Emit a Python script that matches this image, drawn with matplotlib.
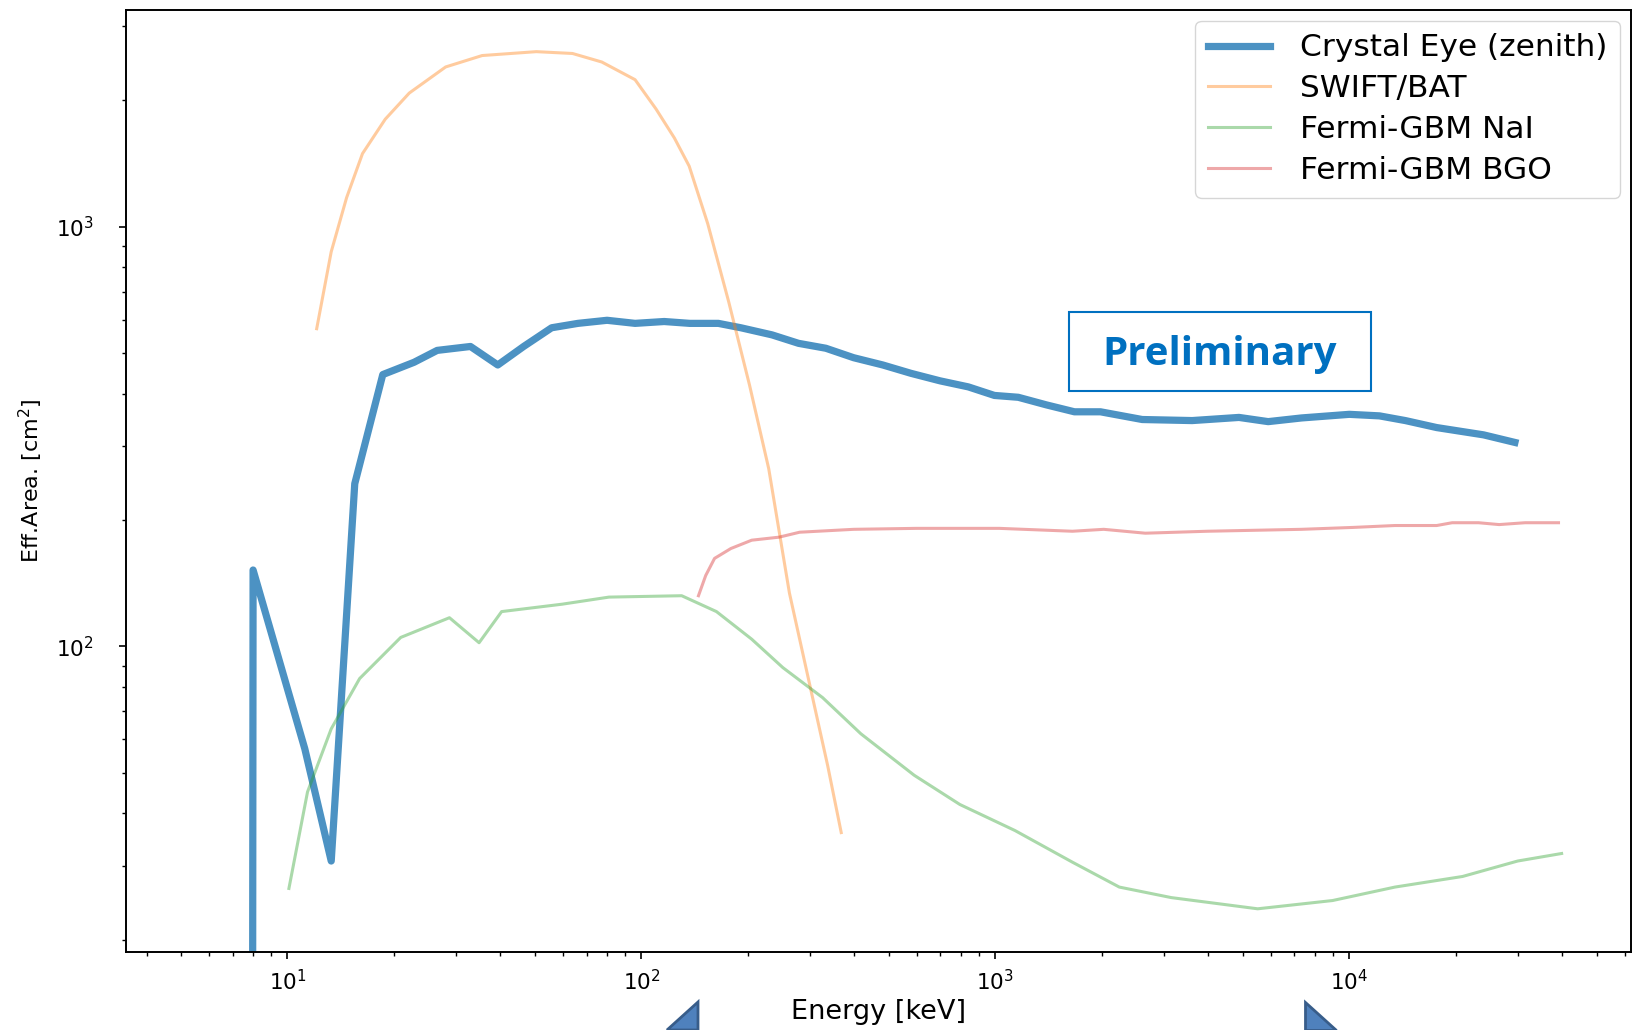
import matplotlib
matplotlib.use("Agg")
import matplotlib.pyplot as plt
from matplotlib.patches import Polygon, Rectangle

# ---------------- data ----------------
ce_energy = [7.95, 8.0, 11.2, 13.3, 15.5, 18.6, 22.8, 26.5, 32.9, 39.3, 46.5, 55.8, 66.2,
             80, 96, 116, 137, 165, 191, 234, 278, 332, 398, 481, 578, 698, 839,
             994, 1161, 1394, 1673, 1982, 2600, 3597, 4880, 5900, 7330, 10000,
             12170, 14400, 17660, 23950, 29370]
ce_area = [1.0, 152, 57, 30.8, 244, 444, 475, 507, 518, 468, 518, 574, 588,
           598, 588, 594, 588, 588, 574, 552, 527, 513, 487, 468, 447, 429, 415,
           396, 392, 376, 362, 362, 347, 345, 351, 343, 350, 357,
           354, 345, 332, 319, 306]

bat_energy = [12.1, 13.3, 14.7, 16.3, 18.9, 22.1, 28, 35.5, 50.5, 63.9, 77.3, 96, 110,
              124, 136.5, 154, 176.5, 202, 229, 262, 300, 336, 367]
bat_area = [571, 871, 1172, 1492, 1802, 2080, 2400, 2555, 2610, 2584, 2466, 2238, 1906,
            1625, 1393, 1016, 662, 420, 265, 134, 80, 52, 36]

nai_energy = [10.1, 11.4, 13.3, 16, 20.9, 28.7, 34.8, 40.3, 59.7, 81, 130, 163, 205,
              251, 325, 417, 590, 794, 1137, 1652, 2240, 3143, 5510, 8970, 13460,
              20900, 29900, 39800]
nai_area = [26.5, 45, 63.6, 83.8, 105, 117, 102, 121, 126, 131, 132, 121, 104,
            89, 75.5, 61.9, 49.3, 42, 36.4, 30.6, 26.7, 25.2, 23.7, 24.8, 26.7,
            28.3, 30.8, 32.1]

bgo_energy = [145, 152, 161, 179, 205, 245, 280, 398, 598, 1027, 1652, 2024, 2653,
              3970, 7330, 10270, 13460, 17660, 19530, 23170, 26500, 31400, 39000]
bgo_area = [132, 147.5, 162, 171, 179, 182, 187, 190, 191, 191, 188, 190, 186,
            188, 190, 192, 194, 194, 197, 197, 195, 197, 197]

labels = ["Crystal Eye (zenith)", "SWIFT/BAT", "Fermi-GBM NaI", "Fermi-GBM BGO"]

# ---------------- figure ----------------
W, H = 1633, 1030
fig = plt.figure(figsize=(W / 100, H / 100), dpi=100)
ax = fig.add_axes([126 / W, 1 - 952 / H, (1631 - 126) / W, (952 - 10) / H])

ax.plot(ce_energy, ce_area, color="tab:blue", alpha=0.8, lw=5.2, label=labels[0])
ax.plot(bat_energy, bat_area, color="tab:orange", alpha=0.4, lw=2.2, label=labels[1])
ax.plot(nai_energy, nai_area, color="tab:green", alpha=0.4, lw=2.2, label=labels[2])
ax.plot(bgo_energy, bgo_area, color="tab:red", alpha=0.4, lw=2.2, label=labels[3])

ax.set_xscale("log")
ax.set_yscale("log")
ax.set_xlim(3.5, 62500)
ax.set_ylim(18.7, 3280)

for s in ax.spines.values():
    s.set_linewidth(1.4)
    s.set_color("black")

ax.tick_params(which="major", length=5, width=1.2, labelsize=15.5)
ax.tick_params(which="minor", length=3, width=1.0)
ax.tick_params(axis="y", pad=18)
ax.tick_params(axis="x", pad=7)

ax.set_xlabel("Energy [keV]", fontsize=19.5, labelpad=4)
ax.set_ylabel("Eff.Area. [cm$^2$]", fontsize=16,
              family=["Liberation Sans Narrow", "DejaVu Sans"], labelpad=8)

leg = ax.legend(loc="upper right", fontsize=22.5, handlelength=2.0,
                handletextpad=0.95, labelspacing=0.38, borderaxespad=0.35,
                framealpha=0.8, edgecolor="#cccccc", borderpad=0.4)

# "Preliminary" overlay box
fig.patches.append(Rectangle((1069 / W, 1 - 391 / H), (1371 - 1069) / W, (391 - 312) / H,
                             transform=fig.transFigure, fill=False,
                             edgecolor="#0070C0", lw=1.5))
fig.text(1220 / W, 1 - 354 / H, "Preliminary", color="#0070C0", fontsize=29,
         fontweight="bold", family=["Open Sans", "DejaVu Sans"],
         ha="center", va="center")

# slide arrow decorations at the bottom
fig.patches.append(Polygon([(698 / W, 1 - 1002 / H), (667 / W, 0.0), (698 / W, 0.0)],
                           closed=True, transform=fig.transFigure,
                           facecolor="#4F81BD", edgecolor="#385D8A", lw=2))
fig.patches.append(Polygon([(1305 / W, 1 - 1002 / H), (1305 / W, 0.0), (1336 / W, 0.0)],
                           closed=True, transform=fig.transFigure,
                           facecolor="#4F81BD", edgecolor="#385D8A", lw=2))

fig.savefig("out.png", dpi=100)
